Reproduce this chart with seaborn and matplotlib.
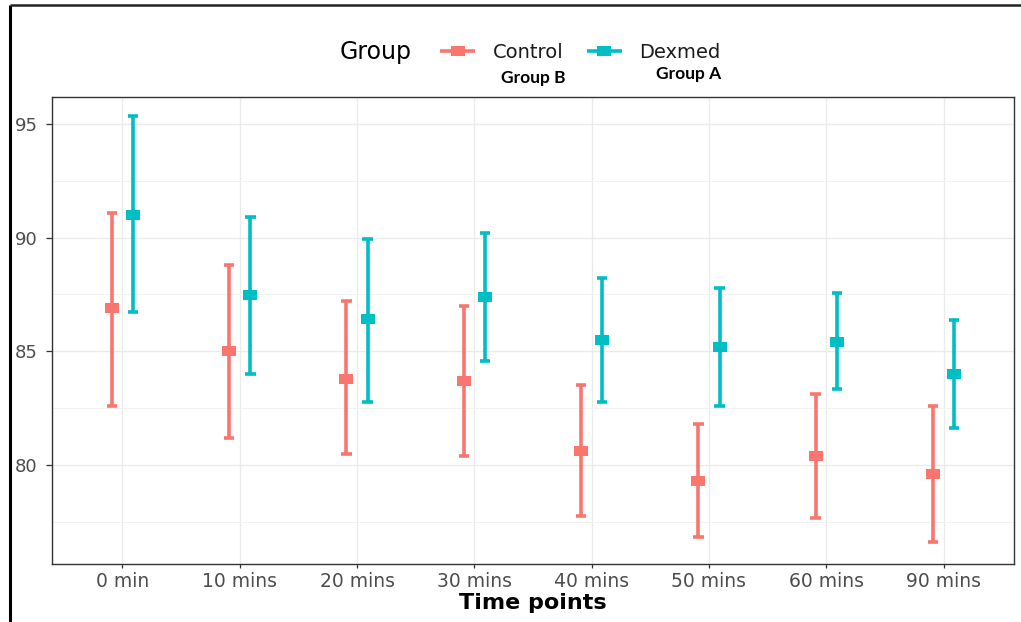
import numpy as np
import pandas as pd
import matplotlib
matplotlib.use("Agg")
import matplotlib.pyplot as plt
import matplotlib.path as mpath
from matplotlib.markers import MarkerStyle
from matplotlib.lines import Line2D
import seaborn as sns

# ---- data: mean and interval bounds per group and time point ----
time_points = ["0 min", "10 mins", "20 mins", "30 mins",
               "40 mins", "50 mins", "60 mins", "90 mins"]
groups = ["Control", "Dexmed"]
group_notes = ["Group B", "Group A"]

control_mean = [86.92, 85.03, 83.80, 83.71, 80.60, 79.30, 80.41, 79.60]
control_low = [82.60, 81.17, 80.50, 80.40, 77.77, 76.82, 77.68, 76.61]
control_high = [91.10, 88.81, 87.22, 87.01, 83.51, 81.82, 83.12, 82.58]

dexmed_mean = [91.00, 87.49, 86.41, 87.40, 85.51, 85.20, 85.41, 84.00]
dexmed_low = [86.73, 84.00, 82.78, 84.59, 82.78, 82.60, 83.33, 81.63]
dexmed_high = [95.34, 90.90, 89.93, 90.22, 88.23, 87.79, 87.58, 86.38]

y_ticks = [80, 85, 90, 95]
y_minor = [77.5, 82.5, 87.5, 92.5]

palette = {"Control": "#F8766D", "Dexmed": "#00BFC4"}

# long table: low / mean / high rows, so median = mean and full range = interval
rows = []
for grp, lo, mid, hi in [("Control", control_low, control_mean, control_high),
                         ("Dexmed", dexmed_low, dexmed_mean, dexmed_high)]:
    for t, a, b, c in zip(time_points, lo, mid, hi):
        for v in (a, b, c):
            rows.append({"Time": t, "Group": grp, "value": v})
df = pd.DataFrame(rows)

sns.set_style("white")
plt.rcParams["font.family"] = ["DejaVu Sans"]
plt.rcParams["lines.solid_capstyle"] = "butt"

W, H = 1021, 622
fig = plt.figure(figsize=(W / 100, H / 100), dpi=100)
ax = fig.add_axes([52 / W, 1 - 564 / H, (1014 - 52) / W, (564 - 97) / H])

# wide square marker
rect = mpath.Path([(-1, -0.64), (1, -0.64), (1, 0.64), (-1, 0.64), (-1, -0.64)],
                  [mpath.Path.MOVETO, mpath.Path.LINETO, mpath.Path.LINETO,
                   mpath.Path.LINETO, mpath.Path.CLOSEPOLY])
rect_marker = MarkerStyle(rect)

sns.pointplot(data=df, x="Time", y="value", hue="Group",
              order=time_points, hue_order=groups, palette=palette,
              estimator="median", errorbar=("pi", 100),
              dodge=0.18, linestyle="none", marker=rect_marker,
              markersize=10.5, markeredgewidth=0, capsize=0.09,
              err_kws={"linewidth": 2.6, "solid_capstyle": "butt"},
              legend=False, ax=ax)

ax.set_xlim(-0.6, 7.6)
ax.set_ylim(75.64, 96.19)
ax.set_yticks(y_ticks)
ax.set_yticks(y_minor, minor=True)
ax.set_yticklabels([str(v) for v in y_ticks])

ax.set_axisbelow(True)
ax.grid(True, which="major", color="#EBEBEB", linewidth=1.0)
ax.grid(True, which="minor", axis="y", color="#F2F2F2", linewidth=0.7)

for s in ax.spines.values():
    s.set_visible(True)
    s.set_color("#333333")
    s.set_linewidth(1.0)

ax.tick_params(axis="y", which="major", length=4.5, width=0.9, color="#333333",
               labelsize=13, labelcolor="#4D4D4D", pad=6, left=True)
ax.tick_params(axis="y", which="minor", length=0, left=False)
ax.tick_params(axis="x", which="major", length=3, width=0.9, color="#333333",
               labelsize=13.5, labelcolor="#4D4D4D", pad=3, bottom=True)

ax.set_ylabel("")
ax.set_xlabel("Time points", fontsize=16, fontweight="bold", color="black", labelpad=1)

# legend across the top
fig.text(340 / W, 1 - 52 / H, "Group", fontsize=17, color="black",
         ha="left", va="center")
handles = [Line2D([0], [0], color=palette[g], lw=2.6, marker=rect_marker,
                  markersize=10.5, markeredgewidth=0, solid_capstyle="butt")
           for g in groups]
fig.legend(handles, groups, ncol=2, frameon=False, loc="center left",
           bbox_to_anchor=(440 / W, 1 - 52 / H), bbox_transform=fig.transFigure,
           fontsize=14, handlelength=1.8, handletextpad=0.9, columnspacing=1.2,
           borderpad=0, borderaxespad=0, labelcolor="#1A1A1A")

fig.text(533 / W, 1 - 78 / H, group_notes[0], fontsize=12.5, fontweight="bold",
         family=["Lato", "DejaVu Sans"], ha="center", va="center", color="black")
fig.text(689 / W, 1 - 74 / H, group_notes[1], fontsize=12.5, fontweight="bold",
         family=["Lato", "DejaVu Sans"], ha="center", va="center", color="black")

# outer frame lines along the left and top edges
fig.add_artist(Line2D([10 / W, 10 / W], [0, 1 - 5 / H], transform=fig.transFigure,
                      color="black", lw=2.2))
fig.add_artist(Line2D([10 / W, 1], [1 - 5 / H, 1 - 5 / H], transform=fig.transFigure,
                      color="#222222", lw=1.8))

fig.savefig("out.png", dpi=100)
